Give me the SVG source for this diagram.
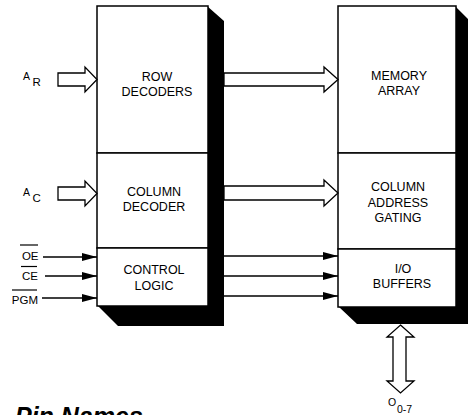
<svg xmlns="http://www.w3.org/2000/svg" width="468" height="415" viewBox="0 0 468 415">
<style>
.box{fill:#fff;stroke:#000;stroke-width:1.5}
.shadow{fill:#000;stroke:none}
.hollow{fill:#fff;stroke:#000;stroke-width:1.3;stroke-linejoin:miter}
.wire{stroke:#000;stroke-width:1.5;fill:none}
.lbl{font-family:"Liberation Sans",Arial,sans-serif;font-size:12.5px;text-anchor:middle;fill:#000}
.pin{font-family:"Liberation Sans",Arial,sans-serif;font-size:11.5px;text-anchor:end;fill:#000}
.sm{font-family:"Liberation Sans",Arial,sans-serif;fill:#000}
.over{stroke:#000;stroke-width:1.2}
</style>
<defs>
<marker id="ah" markerUnits="userSpaceOnUse" markerWidth="15" markerHeight="8" refX="15" refY="4" orient="auto">
<path d="M0,0 L15,4 L0,8 Z" fill="#000"/>
</marker>
</defs>
<rect width="468" height="415" fill="#fff"/>

<g id="left-chip">
<polygon class="shadow" points="207,6 224,21 224,326 118,326 98,306 207,306"/>
<g id="row-decoders">
<rect class="box" x="97" y="6" width="111" height="147"/>
<text class="lbl" x="157" y="81">ROW</text>
<text class="lbl" x="157" y="96">DECODERS</text>
</g>
<g id="column-decoder">
<rect class="box" x="97" y="153" width="111" height="95"/>
<text class="lbl" x="154" y="196">COLUMN</text>
<text class="lbl" x="154" y="211">DECODER</text>
</g>
<g id="control-logic">
<rect class="box" x="97" y="248" width="111" height="58"/>
<text class="lbl" x="154" y="274">CONTROL</text>
<text class="lbl" x="154" y="290">LOGIC</text>
</g>
</g>

<g id="right-chip">
<polygon class="shadow" points="455,6 470,21 470,324 357,324 339,307 455,307"/>
<g id="memory-array">
<rect class="box" x="338" y="6" width="118" height="147"/>
<text class="lbl" x="399" y="80">MEMORY</text>
<text class="lbl" x="399" y="95">ARRAY</text>
</g>
<g id="column-address-gating">
<rect class="box" x="338" y="153" width="118" height="96"/>
<text class="lbl" x="398" y="191">COLUMN</text>
<text class="lbl" x="398" y="207">ADDRESS</text>
<text class="lbl" x="398" y="222">GATING</text>
</g>
<g id="io-buffers">
<rect class="box" x="338" y="249" width="118" height="58"/>
<text class="lbl" x="403" y="273">I/O</text>
<text class="lbl" x="402" y="288">BUFFERS</text>
</g>
</g>

<g id="connectors">
<path class="hollow" d="M58,73 H85 V67 L97,79.5 L85,92 V86 H58 Z"/>
<path class="hollow" d="M58,187 H85 V181 L97,193.5 L85,206 V200 H58 Z"/>
<path class="hollow" d="M224,73 H324 V67 L338,79.5 L324,92 V86 H224 Z"/>
<path class="hollow" d="M224,186 H324 V180 L338,193 L324,206 V200 H224 Z"/>
<line class="wire" x1="43" y1="257" x2="97" y2="257" marker-end="url(#ah)"/>
<line class="wire" x1="45" y1="276" x2="97" y2="276" marker-end="url(#ah)"/>
<line class="wire" x1="42" y1="298" x2="97" y2="298" marker-end="url(#ah)"/>
<line class="wire" x1="224" y1="256" x2="338" y2="256" marker-end="url(#ah)"/>
<line class="wire" x1="224" y1="276" x2="338" y2="276" marker-end="url(#ah)"/>
<line class="wire" x1="224" y1="296" x2="338" y2="296" marker-end="url(#ah)"/>
<path class="hollow" d="M400.5,325 L414,337 H406 V381 H414 L400.5,393 L387,381 H393 V337 H387 Z"/>
</g>

<g id="pin-labels">
<text class="sm" x="23" y="79.5" font-size="10.5">A</text>
<text class="sm" x="32.5" y="85.5" font-size="11.5">R</text>
<text class="sm" x="23" y="195.5" font-size="10.5">A</text>
<text class="sm" x="32.5" y="201.5" font-size="11.5">C</text>
<text class="pin" x="38.5" y="260">OE</text>
<line class="over" x1="20" y1="245" x2="38" y2="245"/>
<text class="pin" x="38" y="280">CE</text>
<line class="over" x1="21" y1="266.5" x2="37" y2="266.5"/>
<text class="pin" x="38" y="304">PGM</text>
<line class="over" x1="12" y1="290" x2="37" y2="290"/>
<text class="sm" x="388" y="406" font-size="10.5">O</text>
<text class="sm" x="397" y="413" font-size="10.5">0-7</text>
<text class="sm" x="15" y="425" font-size="25" font-weight="bold" font-style="italic">Pin Names</text>
</g>
</svg>
